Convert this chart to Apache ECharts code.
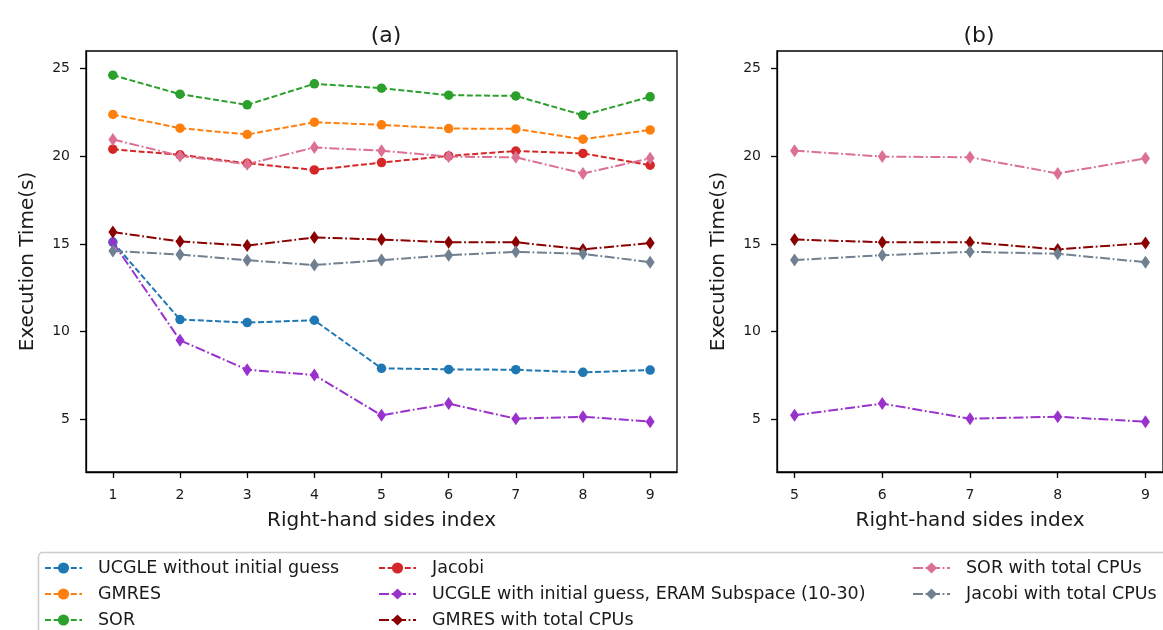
<!DOCTYPE html>
<html>
<head>
<meta charset="utf-8">
<script src="https://cdn.jsdelivr.net/npm/echarts@6/dist/echarts.min.js"></script>
<style>html,body{margin:0;padding:0;background:#fff;}#c{width:1163px;height:630px;}</style>
</head>
<body>
<div id="c"></div>
<script>
// ---- data ----
const xIndex = [1, 2, 3, 4, 5, 6, 7, 8, 9];
const xTicksA = [1, 2, 3, 4, 5, 6, 7, 8, 9];
const xTicksB = [5, 6, 7, 8, 9];
const yTicks = [5, 10, 15, 20, 25];
const ucgleNoGuess = [15.11, 10.69, 10.52, 10.65, 7.91, 7.85, 7.83, 7.68, 7.81];
const gmres        = [22.38, 21.60, 21.24, 21.94, 21.79, 21.58, 21.56, 20.97, 21.50];
const sor          = [24.62, 23.54, 22.93, 24.13, 23.88, 23.48, 23.44, 22.34, 23.39];
const jacobi       = [20.40, 20.08, 19.60, 19.22, 19.64, 20.02, 20.30, 20.16, 19.49];
const ucgleGuess   = [15.10, 9.51, 7.83, 7.53, 5.23, 5.90, 5.04, 5.15, 4.87];
const gmresCpu     = [15.68, 15.14, 14.91, 15.37, 15.25, 15.10, 15.10, 14.69, 15.05];
const sorCpu       = [20.96, 20.02, 19.55, 20.50, 20.32, 19.98, 19.94, 19.02, 19.88];
const jacobiCpu    = [14.60, 14.40, 14.07, 13.80, 14.08, 14.36, 14.55, 14.44, 13.96];
const panelBStart = 4; // panel (b) shows indices 5..9

const FONT = '"DejaVu Sans"';
const TXT = '#1a1a1a';
const DASH = [6, 2.6];
const DASHDOT = [10, 2.6, 1.8, 2.6];

const seriesDefs = [
  {name: 'UCGLE without initial guess', values: ucgleNoGuess, color: '#1f77b4', dash: DASH, symbol: 'circle', b: false},
  {name: 'GMRES', values: gmres, color: '#ff7f0e', dash: DASH, symbol: 'circle', b: false},
  {name: 'SOR', values: sor, color: '#2ca02c', dash: DASH, symbol: 'circle', b: false},
  {name: 'Jacobi', values: jacobi, color: '#d62728', dash: DASH, symbol: 'circle', b: false},
  {name: 'UCGLE with initial guess, ERAM Subspace (10-30)', values: ucgleGuess, color: '#9932cc', dash: DASHDOT, symbol: 'diamond', b: true},
  {name: 'GMRES with total CPUs', values: gmresCpu, color: '#8b0000', dash: DASHDOT, symbol: 'diamond', b: true},
  {name: 'SOR with total CPUs', values: sorCpu, color: '#db7093', dash: DASHDOT, symbol: 'diamond', b: true},
  {name: 'Jacobi with total CPUs', values: jacobiCpu, color: '#708090', dash: DASHDOT, symbol: 'diamond', b: true}
];

function mkSeries(d, axis, start) {
  const pts = [];
  for (let i = start; i < xIndex.length; i++) pts.push([xIndex[i], d.values[i]]);
  return {
    type: 'line', name: d.name, xAxisIndex: axis, yAxisIndex: axis, data: pts,
    symbol: d.symbol, symbolSize: d.symbol === 'circle' ? 9.5 : [9, 13],
    showAllSymbol: true,
    lineStyle: {color: d.color, width: 2, type: d.dash},
    itemStyle: {color: d.color},
    animation: false, silent: true, z: 2
  };
}
const series = [];
seriesDefs.forEach(d => series.push(mkSeries(d, 0, 0)));
seriesDefs.filter(d => d.b).forEach(d => series.push(mkSeries(d, 1, panelBStart)));

const axisLineStyle = {show: true, onZero: false, lineStyle: {color: '#000', width: 1.3}};
const nameStyle = {fontFamily: FONT, fontSize: 20, color: TXT};
function xAx(idx, min, max, ticks) {
  return {
    type: 'value', gridIndex: idx, min: min, max: max,
    name: 'Right-hand sides index', nameLocation: 'middle', nameGap: 39, nameTextStyle: nameStyle,
    axisLine: axisLineStyle, splitLine: {show: false},
    axisTick: {show: true, length: 6, lineStyle: {color: '#000', width: 1.3}, customValues: ticks},
    axisLabel: {fontFamily: FONT, fontSize: 14, color: TXT, margin: 16, customValues: ticks}
  };
}
function yAx(idx) {
  return {
    type: 'value', gridIndex: idx, min: 2, max: 26,
    name: 'Execution Time(s)', nameLocation: 'middle', nameGap: 48, nameTextStyle: nameStyle,
    axisLine: axisLineStyle, splitLine: {show: false},
    axisTick: {show: true, length: 6, lineStyle: {color: '#000', width: 1.3}, customValues: yTicks},
    axisLabel: {fontFamily: FONT, fontSize: 14, color: TXT, margin: 16, customValues: yTicks}
  };
}

const legendText = {fontFamily: FONT, fontSize: 17.5, color: TXT, lineHeight: 14, padding: [0, 0, 0, 11]};
function legend(left, names) {
  return {
    orient: 'vertical', left: left, top: 559, width: 600, height: 120, itemWidth: 37, itemHeight: 14,
    itemGap: 8, textStyle: legendText, data: names,
    selectedMode: false, padding: 0
  };
}

const chart = echarts.init(document.getElementById('c'), null, {renderer: 'canvas'});
chart.setOption({
  animation: false,
  backgroundColor: '#fff',
  title: [
    {text: '(a)', left: 381, top: 20, textAlign: 'center', textStyle: {fontFamily: FONT, fontSize: 22, fontWeight: 'normal', color: TXT}},
    {text: '(b)', left: 974, top: 20, textAlign: 'center', textStyle: {fontFamily: FONT, fontSize: 22, fontWeight: 'normal', color: TXT}}
  ],
  grid: [
    {left: 86, top: 51, width: 591, height: 421, show: true, borderColor: '#000', borderWidth: 1.3, containLabel: false},
    {left: 777, top: 51, width: 395, height: 421, show: true, borderColor: '#000', borderWidth: 1.3, containLabel: false}
  ],
  xAxis: [xAx(0, 0.6, 9.4, xTicksA), xAx(1, 4.8, 9.2, xTicksB)],
  yAxis: [yAx(0), yAx(1)],
  legend: [
    legend(44, seriesDefs.slice(0, 3).map(d => d.name)),
    legend(378, seriesDefs.slice(3, 6).map(d => d.name)),
    legend(912, seriesDefs.slice(6, 8).map(d => d.name))
  ],
  graphic: [{
    type: 'rect', shape: {x: 38.5, y: 552.5, width: 1200, height: 120, r: 4},
    style: {fill: 'none', stroke: '#cccccc', lineWidth: 1.5}, z: -1, silent: true
  }],
  series: series
});
</script>
</body>
</html>
